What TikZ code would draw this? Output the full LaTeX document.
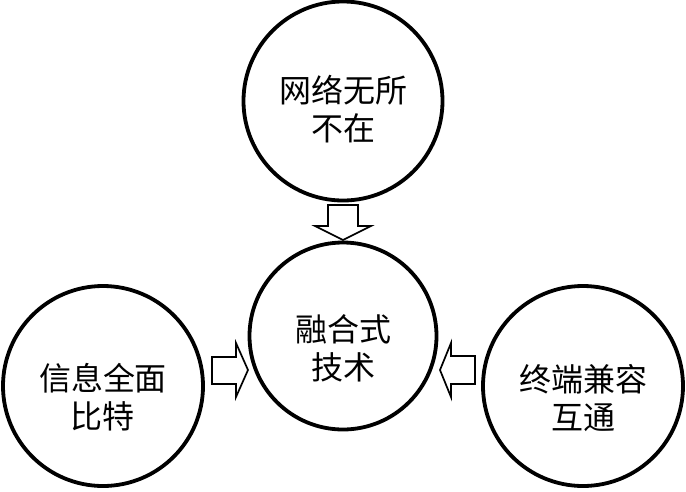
\documentclass[tikz,border=0pt]{standalone}
\usepackage{fontspec}
\newfontfamily\cjk{Noto Sans CJK SC}
\begin{document}
\begin{tikzpicture}[x=1pt,y=-1pt,
  ring/.style={circle,draw=black,line width=3.8pt,minimum size=#1,inner sep=0pt},
  lbl/.style={align=center,font=\cjk\fontsize{32}{38}\selectfont,inner sep=0pt},
  blockarrow/.style={draw=black,line width=1.7pt,fill=white,line join=miter}]
\useasboundingbox (0,0) rectangle (686,491);
% circles
\node[ring=199pt] (top) at (343,101) {};
\node[ring=187pt] (mid) at (343,336) {};
\node[ring=200pt] (left) at (103,386) {};
\node[ring=200pt] (right) at (583,386) {};
% labels
\node[lbl] (ttop) at (343,109) {网络无所\\不在};
\node[lbl] (tmid) at (343,348) {融合式\\技术};
\node[lbl] (tleft) at (103,397) {信息全面\\比特};
\node[lbl] (tright) at (583,398) {终端兼容\\互通};
% block arrows
\draw[blockarrow] (328,205) -- (358,205) -- (358,226) -- (371,226) -- (343,240)
  -- (315,226) -- (328,226) -- cycle;
\draw[blockarrow] (212,357) -- (236,357) -- (236,343) -- (248,370) -- (236,397)
  -- (236,384) -- (212,384) -- cycle;
\draw[blockarrow] (475,356) -- (451,356) -- (451,343) -- (440,370) -- (451,397)
  -- (451,384) -- (475,384) -- cycle;
\end{tikzpicture}
\end{document}
